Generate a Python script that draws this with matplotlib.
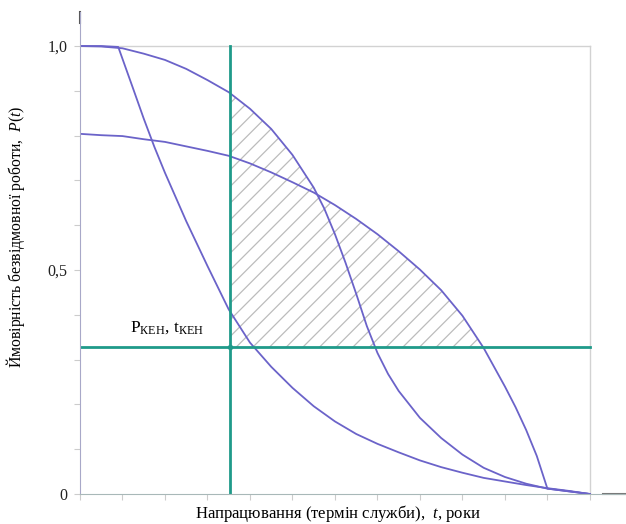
import matplotlib.pyplot as plt
import numpy as np

plt.rcParams['font.family'] = 'serif'
plt.rcParams['font.serif'] = ['Liberation Serif', 'DejaVu Serif']
plt.rcParams['mathtext.fontset'] = 'custom'
plt.rcParams['mathtext.rm'] = 'Liberation Serif'
plt.rcParams['mathtext.it'] = 'Liberation Serif:italic'
plt.rcParams['hatch.color'] = '#bcbcbc'
plt.rcParams['hatch.linewidth'] = 0.9

# curve starting at 1,0 (S-shaped)
t_a = [0, 0.5, 1.0, 1.5, 2.0, 2.5, 3.0, 3.5, 4.0, 4.5, 5.0, 5.5, 5.75, 6.0,
       6.25, 6.5, 6.75, 7.0, 7.25, 7.5, 8.0, 8.5, 9.0, 9.5, 10.0, 10.5, 11.0,
       11.5, 12.0]
p_a = [1.0, 0.999, 0.995, 0.983, 0.969, 0.949, 0.924, 0.897, 0.860, 0.815,
       0.757, 0.684, 0.637, 0.580, 0.516, 0.447, 0.375, 0.315, 0.268, 0.230,
       0.170, 0.125, 0.088, 0.0585, 0.038, 0.023, 0.012, 0.006, 0.0]
# curve starting at 0,8
t_b = [0, 0.5, 1.0, 1.5, 2.0, 2.5, 3.0, 3.5, 4.0, 4.5, 5.0, 5.5, 6.0, 6.5,
       7.0, 7.5, 8.0, 8.5, 9.0, 9.5, 9.75, 10.0, 10.25, 10.5, 10.75, 11.0,
       12.0]
p_b = [0.804, 0.801, 0.799, 0.792, 0.786, 0.776, 0.766, 0.755, 0.738, 0.718,
       0.696, 0.673, 0.645, 0.614, 0.580, 0.542, 0.501, 0.455, 0.398, 0.326,
       0.283, 0.240, 0.194, 0.143, 0.085, 0.012, 0.0]
# steep curve
t_c = [0, 0.5, 0.9, 1.25, 1.5, 1.75, 2.0, 2.5, 3.0, 3.5, 4.0, 4.5, 5.0, 5.5,
       6.0, 6.5, 7.0, 7.5, 8.0, 8.5, 9.0, 9.5, 10.0, 10.5, 11.0, 11.5, 12.0]
p_c = [1.0, 1.0, 0.998, 0.905, 0.838, 0.775, 0.717, 0.609, 0.509, 0.412,
       0.338, 0.284, 0.237, 0.196, 0.162, 0.134, 0.112, 0.093, 0.075, 0.060,
       0.0475, 0.036, 0.028, 0.020, 0.013, 0.007, 0.0]

t_ken = 3.53
p_ken = 0.328

line_col = '#6b63c9'
green = '#1f9a8a'

fig = plt.figure(figsize=(6.26, 5.24), dpi=100)
ax = fig.add_axes([80/626, 30/524, 546/626, 482/524])
ax.set_xlim(0, 12.85)
ax.set_ylim(0, 1.076)

# hatched region
tg = np.linspace(t_ken, 9.5, 300)
top = np.maximum(np.interp(tg, t_a, p_a), np.interp(tg, t_b, p_b))
ax.fill_between(tg, p_ken, np.maximum(top, p_ken), facecolor='none',
                edgecolor='#bcbcbc', hatch='//', linewidth=0)

# light frame
ax.plot([0, 12], [1, 1], color='#d2d2d2', lw=1)
ax.plot([12, 12], [0, 1], color='#d2d2d2', lw=1)

ax.plot(t_a, p_a, color=line_col, lw=1.3)
ax.plot(t_b, p_b, color=line_col, lw=1.3)
ax.plot(t_c, p_c, color=line_col, lw=1.3)

ax.plot([t_ken, t_ken], [0, 1], color=green, lw=2)
ax.plot([0, 12], [p_ken, p_ken], color=green, lw=2)
ax.plot([t_ken], [p_ken], 'o', color=green, ms=3)

ax.text(1.18, 0.362, r'P$_{\mathrm{КЕН}}$, t$_{\mathrm{КЕН}}$', fontsize=12.5)

# dark axis ends
ax.plot([0, 0], [1.052, 1.076], color='#555555', lw=1.5, clip_on=False)
ax.plot([12.3, 12.85], [0, 0], color='#777777', lw=1.5, clip_on=False)

for s in ['top', 'right']:
    ax.spines[s].set_visible(False)
ax.spines['left'].set_color('#a8a8c8')
ax.spines['bottom'].set_color('#a8b8b8')

ax.set_xticks(np.arange(0, 13, 1))
ax.set_xticklabels([])
ax.set_yticks(np.arange(0, 1.01, 0.1))
ax.set_yticklabels(['0', '', '', '', '', '0,5', '', '', '', '', '1,0'])
ax.tick_params(axis='both', length=4, color='#cccccc', labelsize=11.5,
               labelcolor='#222222', pad=5)

fig.text(338/626, (524-514)/524, r'Напрацювання (термін служби),  $t$, роки',
         fontsize=12, ha='center', va='center')
fig.text(16/626, (524-237)/524, r'Ймовірність безвідмовної роботи,  $P(t)$',
         fontsize=11.3, ha='center', va='center', rotation=90)

fig.savefig('out.png', dpi=100)
